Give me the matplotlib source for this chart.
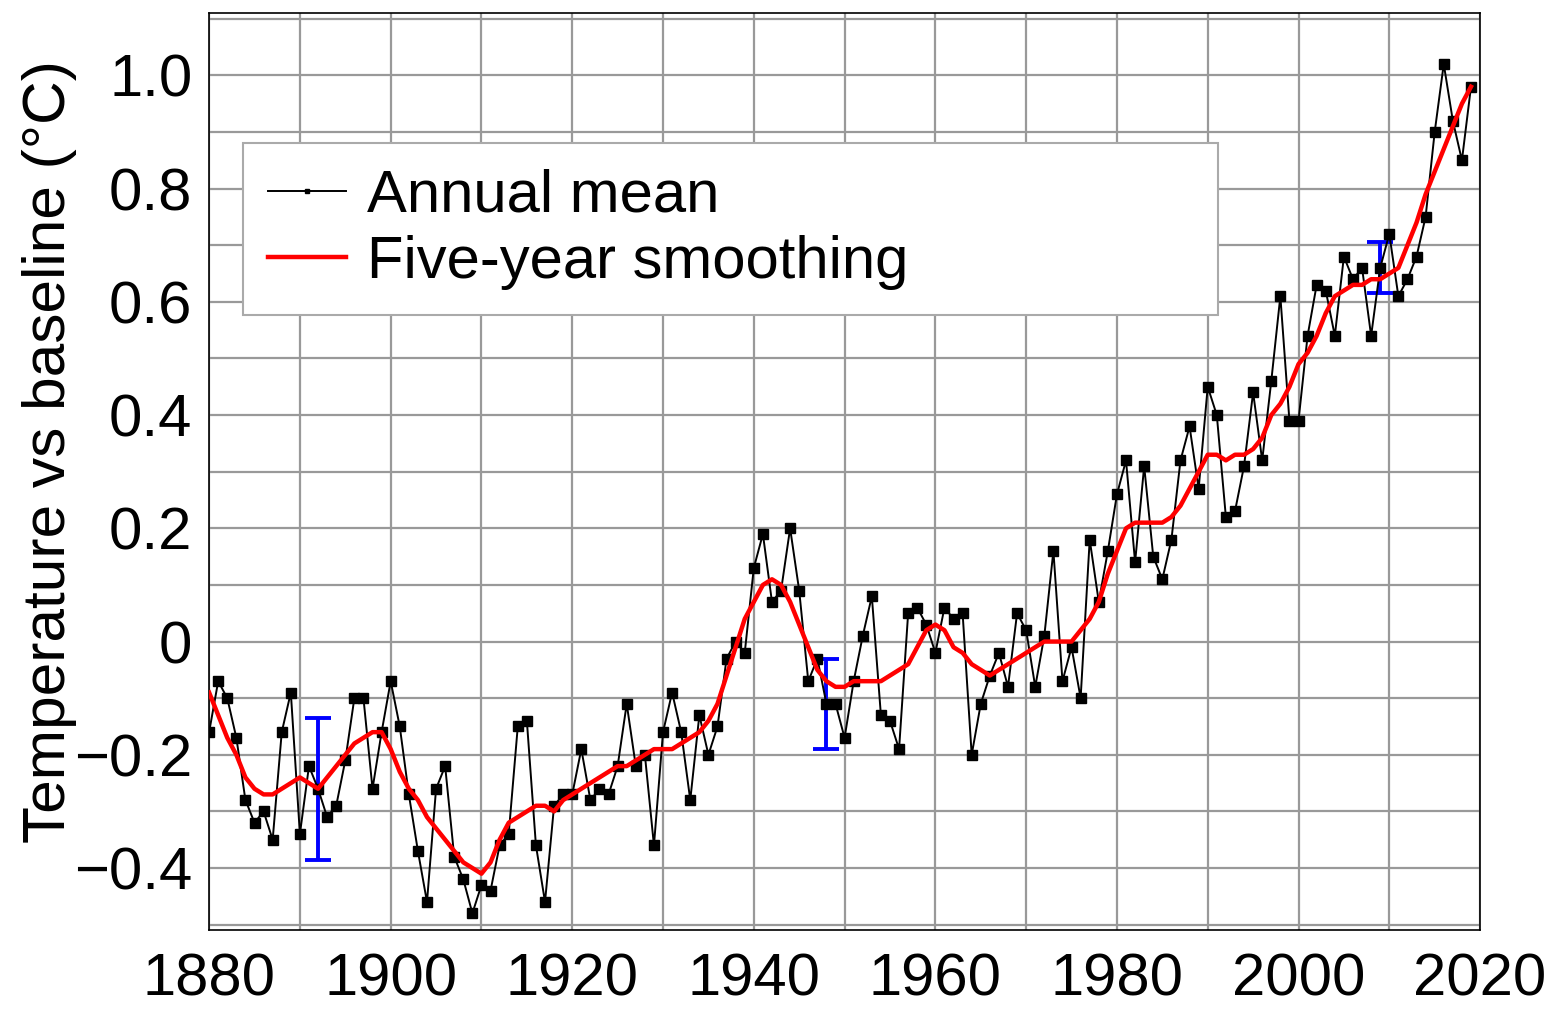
import numpy as np
import matplotlib.pyplot as plt
from matplotlib.ticker import MultipleLocator, FixedLocator

plt.rcParams['font.family'] = ['Liberation Sans', 'DejaVu Sans']

# annual mean anomalies 1880-2019
years = list(range(1880, 2020))
annual = [-0.16, -0.07, -0.10, -0.17, -0.28, -0.32, -0.30, -0.35, -0.16, -0.09,
          -0.34, -0.22, -0.26, -0.31, -0.29, -0.21, -0.10, -0.10, -0.26, -0.16,
          -0.07, -0.15, -0.27, -0.37, -0.46, -0.26, -0.22, -0.38, -0.42, -0.48,
          -0.43, -0.44, -0.36, -0.34, -0.15, -0.14, -0.36, -0.46, -0.29, -0.27,
          -0.27, -0.19, -0.28, -0.26, -0.27, -0.22, -0.11, -0.22, -0.20, -0.36,
          -0.16, -0.09, -0.16, -0.28, -0.13, -0.20, -0.15, -0.03, 0.00, -0.02,
          0.13, 0.19, 0.07, 0.09, 0.20, 0.09, -0.07, -0.03, -0.11, -0.11,
          -0.17, -0.07, 0.01, 0.08, -0.13, -0.14, -0.19, 0.05, 0.06, 0.03,
          -0.02, 0.06, 0.04, 0.05, -0.20, -0.11, -0.06, -0.02, -0.08, 0.05,
          0.02, -0.08, 0.01, 0.16, -0.07, -0.01, -0.10, 0.18, 0.07, 0.16,
          0.26, 0.32, 0.14, 0.31, 0.15, 0.11, 0.18, 0.32, 0.38, 0.27,
          0.45, 0.40, 0.22, 0.23, 0.31, 0.44, 0.32, 0.46, 0.61, 0.39,
          0.39, 0.54, 0.63, 0.62, 0.54, 0.68, 0.64, 0.66, 0.54, 0.66,
          0.72, 0.61, 0.64, 0.68, 0.75, 0.90, 1.02, 0.92, 0.85, 0.98]

# five-year smoothing (lowess)
smooth = [-0.09, -0.13, -0.17, -0.20, -0.24, -0.26, -0.27, -0.27, -0.26, -0.25,
          -0.24, -0.25, -0.26, -0.24, -0.22, -0.20, -0.18, -0.17, -0.16, -0.16,
          -0.19, -0.23, -0.26, -0.28, -0.31, -0.33, -0.35, -0.37, -0.39, -0.40,
          -0.41, -0.39, -0.35, -0.32, -0.31, -0.30, -0.29, -0.29, -0.30, -0.28,
          -0.27, -0.26, -0.25, -0.24, -0.23, -0.22, -0.22, -0.21, -0.20, -0.19,
          -0.19, -0.19, -0.18, -0.17, -0.16, -0.14, -0.11, -0.06, -0.01, 0.04,
          0.07, 0.10, 0.11, 0.10, 0.07, 0.03, -0.01, -0.05, -0.07, -0.08,
          -0.08, -0.07, -0.07, -0.07, -0.07, -0.06, -0.05, -0.04, -0.01, 0.02,
          0.03, 0.02, -0.01, -0.02, -0.04, -0.05, -0.06, -0.05, -0.04, -0.03,
          -0.02, -0.01, 0.00, 0.00, 0.00, 0.00, 0.02, 0.04, 0.07, 0.12,
          0.16, 0.20, 0.21, 0.21, 0.21, 0.21, 0.22, 0.24, 0.27, 0.30,
          0.33, 0.33, 0.32, 0.33, 0.33, 0.34, 0.36, 0.40, 0.42, 0.45,
          0.49, 0.51, 0.54, 0.58, 0.61, 0.62, 0.63, 0.63, 0.64, 0.64,
          0.65, 0.66, 0.70, 0.74, 0.79, 0.83, 0.87, 0.91, 0.95, 0.98]

# uncertainty bars
err_years = [1892, 1948, 2009]
err_mid = [-0.26, -0.11, 0.66]
err_half = [0.125, 0.08, 0.045]

fig = plt.figure(figsize=(15.49, 10.09), dpi=100)
ax = fig.add_axes([0.135, 0.078, 0.8205, 0.909])

ax.errorbar(err_years, err_mid, yerr=err_half, fmt='none', ecolor='blue',
            elinewidth=2.8, capsize=9.5, capthick=2.8, zorder=3)
ax.plot(years, annual, color='black', linewidth=1.4, marker='s', markersize=6.5,
        label='Annual mean', zorder=4)
ax.plot(years, smooth, color='red', linewidth=3.2, label='Five-year smoothing',
        zorder=5)

ax.set_xlim(1880, 2020)
ax.set_ylim(-0.51, 1.11)
ax.xaxis.set_major_locator(MultipleLocator(20))
ax.xaxis.set_minor_locator(MultipleLocator(10))
ax.yaxis.set_major_locator(FixedLocator([-0.4, -0.2, 0, 0.2, 0.4, 0.6, 0.8, 1.0]))
ax.yaxis.set_minor_locator(MultipleLocator(0.1))
ax.set_yticklabels(['\u22120.4', '\u22120.2', '0', '0.2', '0.4', '0.6', '0.8', '1.0'])
ax.grid(which='both', color='#999999', linewidth=1.6)
ax.set_axisbelow(True)
ax.tick_params(which='both', length=0, labelsize=43)
ax.tick_params(axis='x', pad=16)
ax.tick_params(axis='y', pad=12)
for s in ax.spines.values():
    s.set_linewidth(1.2)

ax.set_ylabel('Temperature vs baseline (°C)', fontsize=43.5)
ax.yaxis.set_label_coords(-0.104, 0.522)

leg = ax.legend(loc='upper left', bbox_to_anchor=(0.0268, 0.674, 0.767, 0.184),
                mode='expand', fontsize=43, handlelength=1.3, handletextpad=0.35,
                markerscale=0.55, borderpad=0.42, fancybox=False, framealpha=1,
                edgecolor='#aaaaaa', labelspacing=0.2, borderaxespad=0)
leg.get_frame().set_linewidth(1.5)

fig.savefig('out.png', dpi=100)
